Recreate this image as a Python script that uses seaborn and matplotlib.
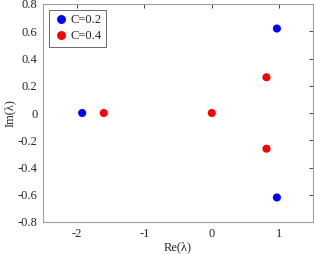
import matplotlib
matplotlib.use("Agg")
import matplotlib.pyplot as plt
import seaborn as sns
import pandas as pd

sns.set_style("white")
plt.rcParams['font.family'] = ['Liberation Serif', 'DejaVu Serif']

# data
re_c02 = [-1.92, 0.965, 0.965]
im_c02 = [0.0, 0.62, -0.62]
re_c04 = [-1.60, 0.0, 0.81, 0.81]
im_c04 = [0.0, 0.0, 0.262, -0.262]
labels = ["C=0.2", "C=0.4"]
colors = ["#0000ff", "#ff0000"]

df = pd.DataFrame({
    "re": re_c02 + re_c04,
    "im": im_c02 + im_c04,
    "C": [labels[0]] * len(re_c02) + [labels[1]] * len(re_c04),
})

fig = plt.figure(figsize=(3.14, 2.54), dpi=100)
ax = fig.add_axes([43/314, 1 - 222/254, 270/314, 218/254])
sns.scatterplot(data=df, x="re", y="im", hue="C", palette=colors,
                s=34, edgecolor="none", ax=ax)

ax.set_xlim(-2.5, 1.5)
ax.set_ylim(-0.8, 0.8)
ax.set_xticks([-2, -1, 0, 1])
ax.set_yticks([-0.8, -0.6, -0.4, -0.2, 0, 0.2, 0.4, 0.6, 0.8])
ax.set_yticklabels(["-0.8", "-0.6", "-0.4", "-0.2", "0", "0.2", "0.4", "0.6", "0.8"])
ax.set_xticklabels(["-2", "-1", "0", "1"])
ax.tick_params(direction="in", length=3, width=0.6, colors="#262626",
               labelsize=9, top=True, right=True, labelcolor="#262626", pad=4)
for sp in ax.spines.values():
    sp.set_color("#a0a0a0")
    sp.set_linewidth(0.8)
ax.set_xlabel("Re(λ)", fontsize=9, color="#262626", labelpad=1)
ax.set_ylabel("Im(λ)", fontsize=9, color="#262626", labelpad=1)

leg = ax.legend(loc="upper left", fontsize=9, frameon=True, fancybox=False,
                handletextpad=0.1, borderpad=0.35, labelspacing=0.35,
                handlelength=1.3, borderaxespad=0.45, markerscale=1.1)
leg.get_frame().set_edgecolor("#262626")
leg.get_frame().set_linewidth(0.6)

fig.savefig("out.png", dpi=100)
